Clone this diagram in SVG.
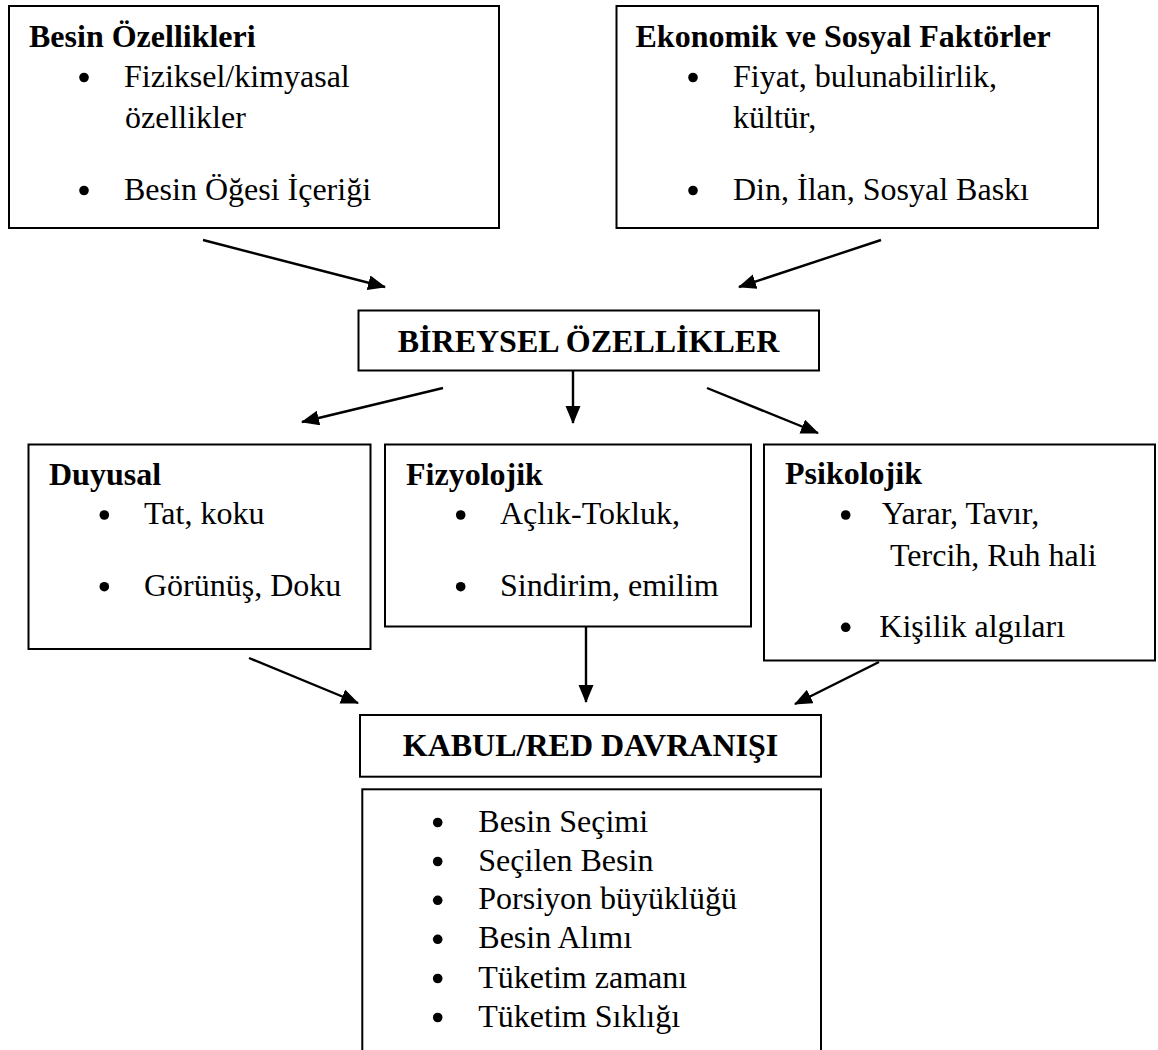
<svg xmlns="http://www.w3.org/2000/svg" width="1158" height="1050" viewBox="0 0 1158 1050">
<style>
.box{fill:#fff;stroke:#000;stroke-width:2}
.t{font-family:"Liberation Serif","Times New Roman",serif;font-size:32px;fill:#000}
.b{font-weight:bold}
.c{text-anchor:middle}
.dot{fill:#000}
.conn{stroke:#000;stroke-width:2.4;fill:none;marker-end:url(#ah)}
</style>
<defs>
<marker id="ah" markerUnits="userSpaceOnUse" markerWidth="20" markerHeight="16" refX="17" refY="7.5" orient="auto">
<path d="M0,0 L18,7.5 L0,15 z" fill="#000"/>
</marker>
</defs>
<rect width="1158" height="1050" fill="#fff"/>

<g id="besin-ozellikleri">
<rect class="box" x="9" y="6" width="490" height="222"/>
<text class="t b" x="29" y="47">Besin Özellikleri</text>
<circle class="dot" cx="84" cy="77.5" r="4.8"/>
<text class="t" x="124" y="87">Fiziksel/kimyasal</text>
<text class="t" x="125" y="128">özellikler</text>
<circle class="dot" cx="84" cy="190.5" r="4.8"/>
<text class="t" x="124" y="200">Besin Öğesi İçeriği</text>
</g>

<g id="ekonomik-sosyal">
<rect class="box" x="616.5" y="6" width="481.5" height="222"/>
<text class="t b" x="635.5" y="47">Ekonomik ve Sosyal Faktörler</text>
<circle class="dot" cx="693" cy="77.5" r="4.8"/>
<text class="t" x="733" y="87">Fiyat, bulunabilirlik,</text>
<text class="t" x="733" y="128">kültür,</text>
<circle class="dot" cx="693" cy="190.5" r="4.8"/>
<text class="t" x="733" y="200">Din, İlan, Sosyal Baskı</text>
</g>

<g id="bireysel">
<rect class="box" x="358.5" y="310.5" width="460.5" height="60"/>
<text class="t b c" x="588.5" y="352.3">BİREYSEL ÖZELLİKLER</text>
</g>

<g id="duyusal">
<rect class="box" x="28.5" y="444.5" width="342" height="204.5"/>
<text class="t b" x="49" y="485">Duyusal</text>
<circle class="dot" cx="104.3" cy="515" r="4.8"/>
<text class="t" x="144" y="524.3">Tat, koku</text>
<circle class="dot" cx="104.3" cy="586.7" r="4.8"/>
<text class="t" x="144" y="596">Görünüş, Doku</text>
</g>

<g id="fizyolojik">
<rect class="box" x="385" y="444.5" width="366" height="182"/>
<text class="t b" x="406" y="485">Fizyolojik</text>
<circle class="dot" cx="460.7" cy="515" r="4.8"/>
<text class="t" x="500" y="524.3">Açlık-Tokluk,</text>
<circle class="dot" cx="460.7" cy="586.7" r="4.8"/>
<text class="t" x="500" y="596">Sindirim, emilim</text>
</g>

<g id="psikolojik">
<rect class="box" x="764" y="444.5" width="391" height="216"/>
<text class="t b" x="785" y="484">Psikolojik</text>
<circle class="dot" cx="845.7" cy="515" r="4.8"/>
<text class="t" x="881.7" y="524.3">Yarar, Tavır,</text>
<text class="t" x="890" y="565.7">Tercih, Ruh hali</text>
<circle class="dot" cx="845.7" cy="627.3" r="4.8"/>
<text class="t" x="879.3" y="636.7">Kişilik algıları</text>
</g>

<g id="kabul-red">
<rect class="box" x="360" y="715" width="461" height="61.7"/>
<text class="t b c" x="590.5" y="755.7">KABUL/RED DAVRANIŞI</text>
</g>

<g id="davranis-listesi">
<rect class="box" x="362.3" y="789.3" width="458.7" height="275"/>
<circle class="dot" cx="437.7" cy="822.5" r="4.8"/>
<text class="t" x="478.3" y="831.7">Besin Seçimi</text>
<circle class="dot" cx="437.7" cy="861.5" r="4.8"/>
<text class="t" x="478.3" y="870.7">Seçilen Besin</text>
<circle class="dot" cx="437.7" cy="900.3" r="4.8"/>
<text class="t" x="478.3" y="909.3">Porsiyon büyüklüğü</text>
<circle class="dot" cx="437.7" cy="939.3" r="4.8"/>
<text class="t" x="478.3" y="948.3">Besin Alımı</text>
<circle class="dot" cx="437.7" cy="978.5" r="4.8"/>
<text class="t" x="478.3" y="987.7">Tüketim zamanı</text>
<circle class="dot" cx="437.7" cy="1017.5" r="4.8"/>
<text class="t" x="478.3" y="1026.7">Tüketim Sıklığı</text>
</g>

<g id="connectors">
<line class="conn" x1="203" y1="240" x2="385" y2="287"/>
<line class="conn" x1="881" y1="240" x2="739" y2="287"/>
<line class="conn" x1="443" y1="388" x2="302" y2="422"/>
<line class="conn" x1="573" y1="371" x2="573" y2="423"/>
<line class="conn" x1="707" y1="388" x2="818" y2="433"/>
<line class="conn" x1="249" y1="658" x2="358" y2="703"/>
<line class="conn" x1="586" y1="627" x2="586" y2="702"/>
<line class="conn" x1="879" y1="662" x2="795" y2="704"/>
</g>
</svg>
